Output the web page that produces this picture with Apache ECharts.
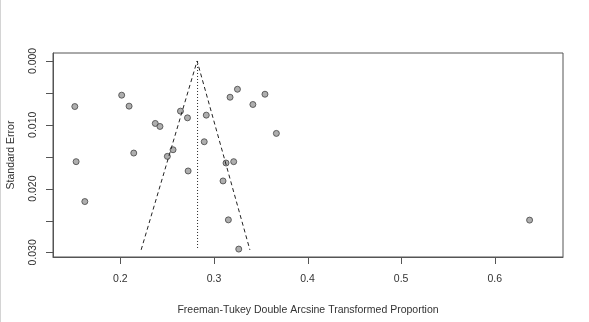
<!DOCTYPE html>
<html lang="en">
<head>
    <meta charset="UTF-8">
    <title>Funnel plot</title>
    <script type="text/javascript" src="https://cdn.jsdelivr.net/npm/echarts@6/dist/echarts.min.js"></script>
    <style>
        html, body { margin: 0; padding: 0; background: #fff; }
    </style>
</head>
<body>
    <div id="main" style="width: 589px; height: 322px;"></div>
    <script type="text/javascript">
        // study estimates: [transformed proportion, standard error]
        var studies = [
            [0.1513, 0.00714], [0.2014, 0.00536], [0.2093, 0.00708], [0.2373, 0.00979],
            [0.2423, 0.01026], [0.2143, 0.01443], [0.1527, 0.01578], [0.1620, 0.02203],
            [0.2642, 0.00786], [0.2717, 0.00891], [0.2563, 0.01391], [0.2502, 0.01495],
            [0.2724, 0.01724], [0.2918, 0.00849], [0.2896, 0.01266], [0.3172, 0.00568],
            [0.3251, 0.00443], [0.3416, 0.00682], [0.3545, 0.00521], [0.3667, 0.01135],
            [0.3129, 0.01599], [0.3211, 0.01578], [0.3097, 0.01880], [0.3154, 0.02490],
            [0.3265, 0.02948], [0.6373, 0.02494]
        ];
        // pseudo confidence funnel and pooled estimate line
        var funnel = [[0.2222, 0.0296], [0.2820, 0.0], [0.3384, 0.0296]];
        var pooled = [[0.2825, 0.0], [0.2825, 0.0293]];

        var xTicks = [0.2, 0.3, 0.4, 0.5, 0.6];
        var yTicks = [0, 0.005, 0.010, 0.015, 0.020, 0.025, 0.030];
        var yLabels = [0, 0.010, 0.020, 0.030];

        var xMin = 0.128, xMax = 0.673;
        var yMin = -0.00125, yMax = 0.03072;

        var font = 'Liberation Sans, Arial, sans-serif';
        var chart = echarts.init(document.getElementById('main'));

        chart.setOption({
            animation: false,
            grid: {
                left: 53, top: 53, right: 26, bottom: 65,
                outerBoundsMode: 'none',
                containLabel: false,
                show: true, borderColor: '#555', borderWidth: 1
            },
            xAxis: {
                type: 'value',
                min: xMin, max: xMax,
                name: 'Freeman-Tukey Double Arcsine Transformed Proportion',
                nameLocation: 'middle', nameGap: 48,
                nameTextStyle: { fontFamily: font, fontSize: 10.5, color: '#333' },
                splitLine: { show: false },
                axisLine: { show: true, onZero: false, lineStyle: { color: '#555' } },
                axisTick: { show: false },
                axisLabel: {
                    customValues: xTicks, margin: 17,
                    fontFamily: font, fontSize: 10.5, color: '#333',
                    formatter: function (v) { return v.toFixed(1); }
                }
            },
            yAxis: {
                type: 'value',
                inverse: true,
                min: yMin, max: yMax,
                name: 'Standard Error',
                nameLocation: 'middle', nameGap: 36,
                nameTextStyle: { fontFamily: font, fontSize: 10.5, color: '#333' },
                splitLine: { show: false },
                axisLine: { show: true, onZero: false, lineStyle: { color: '#555' } },
                axisTick: { show: false },
                axisLabel: {
                    customValues: yLabels, rotate: 90, margin: 14,
                    fontFamily: font, fontSize: 10.5, color: '#333',
                    formatter: function (v) { return v.toFixed(3); }
                }
            },
            series: [{
                type: 'line',
                data: funnel,
                symbol: 'none',
                lineStyle: { color: '#222', width: 1, type: [4, 3] }
            }, {
                type: 'line',
                data: pooled,
                symbol: 'none',
                lineStyle: { color: '#222', width: 1, type: [1, 2] }
            }, {
                type: 'scatter',
                data: studies,
                symbol: 'circle',
                symbolSize: 6,
                itemStyle: { color: '#9a9a9a', borderColor: '#444', borderWidth: 1 }
            }]
        });

        // tick marks as filled rects, positioned with the chart's own scales
        var marks = [{
            type: 'rect',
            shape: { x: 0, y: 0, width: 1, height: 322 },
            style: { fill: '#d4d4d4' }
        }];
        xTicks.forEach(function (v) {
            var p = chart.convertToPixel({ xAxisIndex: 0 }, v);
            var y = chart.convertToPixel({ yAxisIndex: 0 }, yMax);
            marks.push({
                type: 'rect', z: 100,
                shape: { x: Math.round(p), y: Math.round(y), width: 1, height: 7 },
                style: { fill: '#555' }
            });
        });
        yTicks.forEach(function (v) {
            var x = chart.convertToPixel({ xAxisIndex: 0 }, xMin);
            var p = chart.convertToPixel({ yAxisIndex: 0 }, v);
            marks.push({
                type: 'rect', z: 100,
                shape: { x: Math.round(x) - 7, y: Math.round(p), width: 7, height: 1 },
                style: { fill: '#555' }
            });
        });
        chart.setOption({ graphic: marks });
    </script>
</body>
</html>
